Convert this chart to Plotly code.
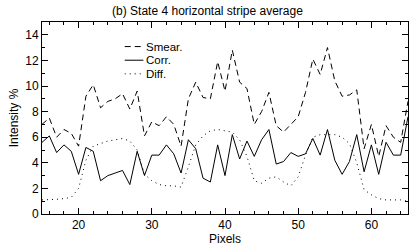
import plotly.graph_objects as go

pixels = list(range(15, 66))
smear = [7.0, 7.5, 6.0, 6.6, 6.3, 5.3, 9.2, 10.1, 8.3, 8.8, 9.0, 9.4, 8.2, 9.6, 6.1,
         7.2, 6.9, 7.6, 7.0, 5.3, 9.0, 10.3, 9.1, 9.0, 11.9, 9.6, 12.8, 10.3, 9.8, 7.0,
         8.0, 9.5, 6.9, 6.4, 7.0, 7.6, 9.5, 12.1, 10.9, 13.0, 10.4, 9.2, 9.3, 9.7, 5.1,
         7.0, 4.5, 6.9, 6.0, 5.6, 8.8]
corr = [5.6, 6.1, 4.8, 5.4, 4.9, 3.1, 5.2, 4.9, 2.6, 3.0, 3.2, 3.4, 2.3, 4.9, 3.0,
        4.6, 4.6, 5.4, 4.7, 3.2, 5.8, 5.1, 2.8, 2.5, 5.4, 3.0, 6.2, 4.3, 5.7, 4.5,
        5.8, 6.6, 3.9, 4.1, 4.8, 4.5, 4.7, 5.9, 4.6, 6.6, 4.2, 3.1, 4.1, 6.2, 3.3,
        5.4, 3.1, 5.6, 4.6, 4.6, 7.6]
diff = [1.1, 1.1, 1.15, 1.2, 1.3, 2.0, 4.2, 5.3, 5.5, 5.7, 5.8, 5.9, 5.7, 5.0, 3.1,
        2.6, 2.3, 2.2, 2.2, 2.1, 3.7, 5.4, 6.1, 6.5, 6.6, 6.5, 6.4, 5.8, 4.5, 2.6,
        2.4, 2.8, 2.9, 2.5, 2.2, 2.9, 4.6, 6.0, 6.2, 6.2, 6.2, 6.0, 5.5, 4.0, 1.9,
        1.5, 1.2, 1.1, 1.1, 1.1, 1.0]
series_names = ["Smear.", "Corr.", "Diff."]
series_dash = ["6px,4px", "solid", "1px,4px"]
series_values = [smear, corr, diff]

font = "Liberation Sans, Arial, sans-serif"
fig = go.Figure()
for name, vals, dash in zip(series_names, series_values, series_dash):
    fig.add_trace(go.Scatter(x=pixels, y=vals, mode="lines", name=name,
                             line=dict(color="black", width=1, dash=dash)))

# hand-drawn legend (compact rows like the reference)
leg_y = [0.872, 0.801, 0.730]
for name, dash, yy in zip(series_names, series_dash, leg_y):
    fig.add_shape(type="line", xref="paper", yref="paper", x0=0.226, x1=0.277,
                  y0=yy, y1=yy, line=dict(color="black", width=1, dash=dash))
    fig.add_annotation(xref="paper", yref="paper", x=0.281, y=yy, text=name,
                       showarrow=False, xanchor="left", yanchor="middle",
                       height=12, borderpad=0,
                       font=dict(size=11.5, family=font, color="black"))

axis_common = dict(showline=True, linecolor="black", linewidth=1, mirror="allticks",
                   ticks="inside", ticklen=6, tickcolor="black", showgrid=False,
                   zeroline=False, tickfont=dict(size=12, color="black", family=font))
fig.update_layout(
    width=415, height=247,
    margin=dict(l=42, r=6, t=22, b=29),
    paper_bgcolor="white", plot_bgcolor="white",
    font=dict(family=font, size=12, color="black"),
    title=dict(text="(b) State 4 horizontal stripe average", x=0.5, xanchor="center",
               y=0.955, yanchor="middle", font=dict(size=12)),
    xaxis=dict(range=[15, 65], dtick=10, tick0=0,
               minor=dict(ticks="inside", dtick=2, ticklen=3, tickcolor="black"),
               title=dict(text="Pixels", standoff=0, font=dict(size=12)), **axis_common),
    yaxis=dict(range=[0, 15], dtick=2, tick0=0,
               minor=dict(ticks="inside", dtick=1, ticklen=3, tickcolor="black"),
               title=dict(text="Intensity %", standoff=4, font=dict(size=12)), **axis_common),
    showlegend=False,
)
fig.write_html("out.html", config={"displayModeBar": False},
               post_script="document.body.style.margin='0';")
